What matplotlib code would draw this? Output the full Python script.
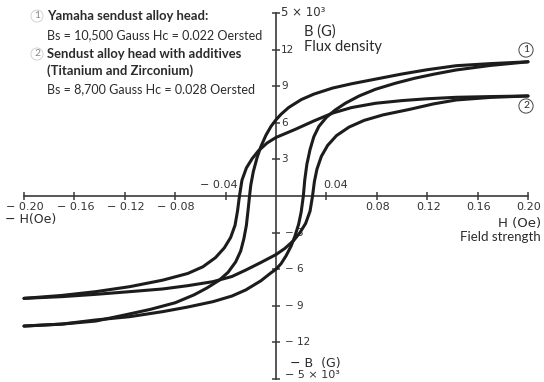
import matplotlib
matplotlib.use('Agg')
import matplotlib.pyplot as plt
import matplotlib.transforms as mtransforms

# ---------------- data ----------------
# Loop 1: Yamaha sendust alloy head (descending = upper branch, ascending = lower branch)
loop1_desc_H = [0.200, 0.170, 0.143, 0.120, 0.100, 0.080, 0.060, 0.045, 0.030, 0.020,
                0.010, 0.004, 0.000, -0.004, -0.008, -0.012, -0.015, -0.018, -0.020, -0.021,
                -0.022, -0.0235, -0.0255, -0.028, -0.032, -0.038, -0.045, -0.055, -0.065,
                -0.080, -0.100, -0.120, -0.143, -0.170, -0.200]
loop1_desc_B = [11.00, 10.85, 10.68, 10.35, 10.00, 9.60, 9.20, 8.85, 8.35, 7.90,
                7.25, 6.70, 6.25, 5.70, 4.98, 4.05, 3.15, 2.00, 0.90, 0.00,
                -1.00, -2.40, -3.50, -4.50, -5.40, -6.25, -6.90, -7.55, -8.10,
                -8.75, -9.30, -9.75, -10.25, -10.50, -10.66]
loop1_asc_H = [-0.200, -0.170, -0.143, -0.116, -0.090, -0.070, -0.050, -0.035, -0.024, -0.012,
               -0.004, 0.000, 0.004, 0.008, 0.012, 0.015, 0.018, 0.020, 0.0217, 0.0228,
               0.0245, 0.027, 0.030, 0.034, 0.040, 0.047, 0.055, 0.066, 0.079, 0.095,
               0.110, 0.125, 0.143, 0.170, 0.200]
loop1_asc_B = [-10.66, -10.50, -10.16, -9.89, -9.48, -9.10, -8.66, -8.20, -7.70, -6.95,
               -6.30, -6.00, -5.55, -4.90, -4.10, -3.30, -2.30, -1.30, 0.00, 1.30,
               2.60, 3.80, 4.85, 5.70, 6.45, 7.05, 7.60, 8.20, 8.75, 9.25,
               9.65, 9.98, 10.33, 10.70, 11.00]

# Loop 2: sendust alloy head with additives
loop2_desc_H = [0.200, 0.170, 0.143, 0.120, 0.100, 0.079, 0.060, 0.045, 0.030, 0.015,
                0.000, -0.007, -0.014, -0.019, -0.0235, -0.027, -0.029, -0.0305, -0.0325, -0.036,
                -0.041, -0.048, -0.058, -0.070, -0.090, -0.116, -0.143, -0.170, -0.200]
loop2_desc_B = [8.20, 8.15, 8.09, 7.97, 7.82, 7.60, 7.25, 6.80, 6.15, 5.45,
                4.80, 4.35, 3.70, 3.05, 2.30, 1.30, 0.00, -1.20, -2.40, -3.40,
                -4.25, -5.05, -5.80, -6.35, -6.90, -7.43, -7.84, -8.15, -8.39]
loop2_asc_H = [-0.200, -0.170, -0.143, -0.116, -0.090, -0.070, -0.050, -0.035, -0.024, -0.012,
               0.000, 0.007, 0.014, 0.019, 0.0235, 0.027, 0.029, 0.0305, 0.0325, 0.036,
               0.041, 0.048, 0.058, 0.070, 0.085, 0.106, 0.125, 0.143, 0.170, 0.200]
loop2_asc_B = [-8.39, -8.25, -8.06, -7.84, -7.62, -7.35, -7.02, -6.60, -6.07, -5.45,
               -4.80, -4.30, -3.65, -3.00, -2.25, -1.25, 0.00, 1.20, 2.20, 3.25,
               4.15, 4.95, 5.65, 6.20, 6.65, 7.10, 7.55, 7.87, 8.08, 8.20]

x_ticks = [-0.20, -0.16, -0.12, -0.08, -0.04, 0.04, 0.08, 0.12, 0.16, 0.20]
x_tick_labels = ['\u2212 0.20', '\u2212 0.16', '\u2212 0.12', '\u2212 0.08', '\u2212 0.04',
                 '0.04', '0.08', '0.12', '0.16', '0.20']
y_ticks = [-15, -12, -9, -6, -3, 3, 6, 9, 12, 15]
y_tick_labels = ['\u2212 5 \u00d7 10\u00b3', '\u2212 12', '\u2212 9', '\u2212 6', '\u2212 3',
                 '3', '6', '9', '12', '5 \u00d7 10\u00b3']

legend_lines = [
    ('1', 'Yamaha sendust alloy head:', True),
    (None, 'Bs = 10,500 Gauss Hc = 0.022 Oersted', False),
    ('2', 'Sendust alloy head with additives', True),
    (None, '(Titanium and Zirconium)', True),
    (None, 'Bs = 8,700 Gauss Hc = 0.028 Oersted', False),
]

# ---------------- figure ----------------
W, H = 544, 382
INK = '#1c1c1c'
TXT = '#2b2b2b'
LAB = ['DejaVu Sans']
plt.rcParams['font.family'] = ['Lato', 'DejaVu Sans']

fig = plt.figure(figsize=(W / 100, H / 100), dpi=100)
fig.patch.set_facecolor('white')
ax = fig.add_axes([24 / W, 3 / H, 504 / W, 366 / H])
ax.set_xlim(-0.2, 0.2)
ax.set_ylim(-15, 15)
ax.set_facecolor('none')

for s in ['top', 'right']:
    ax.spines[s].set_visible(False)
ax.spines['left'].set_position('zero')
ax.spines['bottom'].set_position('zero')
for s in ['left', 'bottom']:
    ax.spines[s].set_color('#3a3a3a')
    ax.spines[s].set_linewidth(1.2)

ax.set_xticks(x_ticks)
ax.set_yticks(y_ticks)
ax.tick_params(axis='both', direction='inout', length=6, width=1.1, color='#3a3a3a',
               labelbottom=False, labelleft=False)

# hysteresis loops
for hh, bb in [(loop1_desc_H, loop1_desc_B), (loop1_asc_H, loop1_asc_B),
               (loop2_desc_H, loop2_desc_B), (loop2_asc_H, loop2_asc_B)]:
    ax.plot(hh, bb, color=INK, lw=2.2, solid_joinstyle='round', solid_capstyle='round',
            clip_on=False, zorder=4)

# x tick labels
for xv, lab in zip(x_ticks, x_tick_labels):
    if abs(xv) == 0.04:
        dx = -7 if xv < 0 else 9
        tr = mtransforms.offset_copy(ax.transData, fig=fig, x=dx, y=11, units='dots')
    else:
        tr = mtransforms.offset_copy(ax.transData, fig=fig, x=1, y=-11, units='dots')
    ax.text(xv, 0, lab, transform=tr, ha='center', va='center', fontsize=8,
            family=LAB, color='#333333', zorder=1)

# y tick labels
for yv, lab in zip(y_ticks, y_tick_labels):
    dx = 5 if yv > 0 else 9
    dy = 0
    fs = 7.5
    if yv == 15:
        fs = 8.5
    elif yv == -15:
        fs, dy = 8, 4
    tr = mtransforms.offset_copy(ax.transData, fig=fig, x=dx, y=dy, units='dots')
    ax.text(0, yv, lab, transform=tr, ha='left', va='center', fontsize=fs,
            family=LAB, color='#333333', zorder=1)

# axis captions
def put(x, y, s, ha='left', **kw):
    kw.setdefault('color', TXT)
    fig.text(x / W, 1 - y / H, s, ha=ha, va='center', **kw)

put(304, 32, 'B (G)', fontsize=10.5)
put(304, 47, 'Flux density', fontsize=10.5)
put(290, 364, '\u2212 B  (G)', fontsize=9, family=LAB)
put(5, 219, '\u2212 H(Oe)', fontsize=9, family=LAB)
put(541, 223, 'H (Oe)', ha='right', fontsize=9.5, family=LAB)
put(541, 237, 'Field strength', ha='right', fontsize=9.5)

# circled curve labels on the right
for num, yy in [('1', 50), ('2', 106)]:
    put(526, yy, num, ha='center', fontsize=7.5,
        bbox=dict(boxstyle='circle,pad=0.25', fc='none', ec='#444444', lw=0.7))

# legend text at top left
ys = [16, 35, 54, 71, 89]
for (num, text, bold), yy in zip(legend_lines, ys):
    if num is not None:
        put(37, yy, num, ha='center', fontsize=7.5, color='#888888',
            bbox=dict(boxstyle='circle,pad=0.15', fc='none', ec='#cccccc', lw=0.6))
    put(47, yy, text, fontsize=9.4 if bold else 9, fontweight='bold' if bold else 'normal')

fig.savefig('out.png', dpi=100, facecolor='white')
